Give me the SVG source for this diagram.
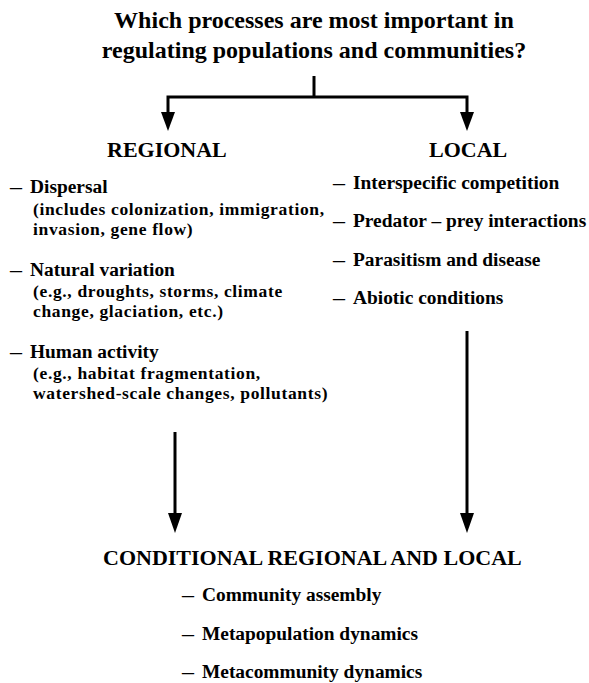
<svg xmlns="http://www.w3.org/2000/svg" width="589" height="683" viewBox="0 0 589 683">
<style>
text{font-family:'Liberation Serif','Times New Roman',Tinos,'DejaVu Serif',serif;font-weight:700;fill:#000}
.t{font-size:24px;text-anchor:middle}
.h{font-size:22px}
.i{font-size:19.4px}
.s{font-size:17.5px;letter-spacing:0.65px}
.ln{stroke:#000;stroke-width:3;fill:none}
.hd{fill:#000}
</style>
<g id="question">
<text class="t" x="314" y="28">Which processes are most important in</text>
<text class="t" x="314" y="58">regulating populations and communities?</text>
</g>
<g id="connectors">
<line class="ln" x1="314" y1="76" x2="314" y2="97"/>
<polyline class="ln" points="168,112 168,97 467,97 467,112"/>
<path class="hd" d="M161,112 L175,112 L168,131 Z"/>
<path class="hd" d="M460,112 L474,112 L467,131 Z"/>
<line class="ln" x1="175" y1="432" x2="175" y2="514"/>
<path class="hd" d="M168,513 L182,513 L175,533 Z"/>
<line class="ln" x1="467" y1="331" x2="467" y2="514"/>
<path class="hd" d="M460,513 L474,513 L467,533 Z"/>
</g>
<g id="regional">
<text class="h" x="107" y="157">REGIONAL</text>
<text class="i" x="10" y="193" textLength="12" lengthAdjust="spacingAndGlyphs">–</text>
<text class="i" x="30" y="193">Dispersal</text>
<text class="s" x="33" y="215">(includes colonization, immigration,</text>
<text class="s" x="33" y="235">invasion, gene flow)</text>
<text class="i" x="10" y="276" textLength="12" lengthAdjust="spacingAndGlyphs">–</text>
<text class="i" x="30" y="276">Natural variation</text>
<text class="s" x="33" y="297">(e.g., droughts, storms, climate</text>
<text class="s" x="33" y="317">change, glaciation, etc.)</text>
<text class="i" x="10" y="358" textLength="12" lengthAdjust="spacingAndGlyphs">–</text>
<text class="i" x="30" y="358">Human activity</text>
<text class="s" x="33" y="379">(e.g., habitat fragmentation,</text>
<text class="s" x="33" y="399">watershed-scale changes, pollutants)</text>
</g>
<g id="local">
<text class="h" x="429" y="157">LOCAL</text>
<text class="i" x="333" y="189" textLength="12" lengthAdjust="spacingAndGlyphs">–</text>
<text class="i" x="353" y="189">Interspecific competition</text>
<text class="i" x="333" y="227" textLength="12" lengthAdjust="spacingAndGlyphs">–</text>
<text class="i" x="353" y="227">Predator – prey interactions</text>
<text class="i" x="333" y="266" textLength="12" lengthAdjust="spacingAndGlyphs">–</text>
<text class="i" x="353" y="266">Parasitism and disease</text>
<text class="i" x="333" y="304" textLength="12" lengthAdjust="spacingAndGlyphs">–</text>
<text class="i" x="353" y="304">Abiotic conditions</text>
</g>
<g id="conditional">
<text class="h" x="103" y="565">CONDITIONAL REGIONAL AND LOCAL</text>
<text class="i" x="182" y="601" textLength="12" lengthAdjust="spacingAndGlyphs">–</text>
<text class="i" x="202" y="601">Community assembly</text>
<text class="i" x="182" y="640" textLength="12" lengthAdjust="spacingAndGlyphs">–</text>
<text class="i" x="202" y="640">Metapopulation dynamics</text>
<text class="i" x="182" y="678" textLength="12" lengthAdjust="spacingAndGlyphs">–</text>
<text class="i" x="202" y="678">Metacommunity dynamics</text>
</g>
</svg>
